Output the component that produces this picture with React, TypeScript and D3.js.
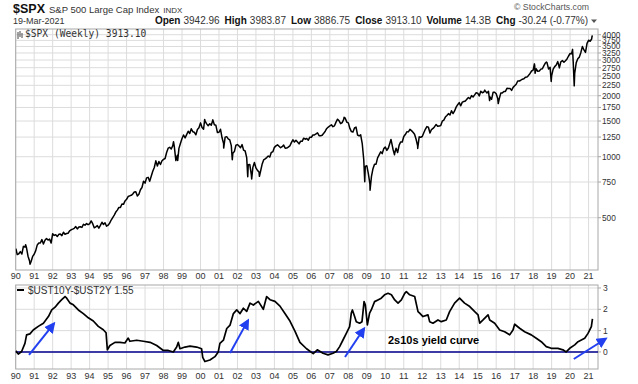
import React, { useEffect, useRef } from "react";
import * as d3 from "d3";

// S&P 500 month-end closes, Jan 1990 .. Feb 2021
const spxStartYear = 1990;
const spxMonthly = [
  329, 332, 340, 331, 361, 358, 356, 323, 306, 304, 322, 330,
  344, 367, 375, 375, 390, 371, 387, 395, 388, 392, 375, 417,
  409, 412, 404, 414, 415, 408, 424, 414, 418, 419, 431, 436,
  439, 443, 452, 440, 450, 451, 448, 464, 459, 468, 462, 466,
  482, 467, 446, 451, 457, 444, 458, 475, 463, 472, 454, 459,
  470, 487, 501, 515, 533, 545, 562, 562, 584, 582, 605, 616,
  636, 641, 645, 654, 669, 671, 640, 652, 687, 705, 757, 741,
  786, 791, 757, 801, 848, 885, 954, 899, 947, 915, 955, 970,
  980, 1049, 1102, 1112, 1091, 1134, 1121, 957, 1017, 1099, 1164, 1229,
  1280, 1238, 1286, 1335, 1302, 1373, 1329, 1320, 1283, 1363, 1389, 1469,
  1394, 1366, 1499, 1452, 1421, 1455, 1431, 1518, 1437, 1429, 1315, 1320,
  1366, 1240, 1160, 1249, 1256, 1224, 1211, 1134, 1041, 1060, 1139, 1148,
  1130, 1107, 1147, 1077, 1067, 990, 912, 916, 815, 886, 936, 880,
  856, 841, 848, 917, 964, 975, 990, 1008, 996, 1051, 1058, 1112,
  1131, 1145, 1126, 1107, 1121, 1141, 1102, 1104, 1115, 1130, 1174, 1212,
  1181, 1204, 1181, 1157, 1192, 1191, 1234, 1220, 1229, 1207, 1249, 1248,
  1280, 1281, 1295, 1311, 1270, 1270, 1277, 1304, 1336, 1378, 1401, 1418,
  1438, 1407, 1421, 1482, 1531, 1503, 1455, 1474, 1527, 1549, 1481, 1468,
  1379, 1331, 1323, 1386, 1400, 1280, 1267, 1283, 1165, 969, 896, 903,
  826, 735, 798, 873, 919, 919, 987, 1021, 1057, 1036, 1096, 1115,
  1074, 1104, 1169, 1187, 1089, 1031, 1102, 1049, 1141, 1183, 1181, 1258,
  1286, 1327, 1326, 1364, 1345, 1321, 1292, 1219, 1131, 1253, 1247, 1258,
  1312, 1366, 1408, 1398, 1310, 1362, 1379, 1407, 1441, 1412, 1416, 1426,
  1498, 1515, 1569, 1598, 1631, 1606, 1686, 1633, 1682, 1757, 1806, 1848,
  1783, 1859, 1872, 1884, 1924, 1960, 1931, 2003, 1972, 2018, 2068, 2059,
  1995, 2105, 2068, 2086, 2107, 2063, 2104, 1972, 1920, 2079, 2080, 2044,
  1940, 1932, 2060, 2065, 2097, 2099, 2174, 2171, 2168, 2126, 2199, 2239,
  2279, 2364, 2363, 2384, 2412, 2423, 2470, 2472, 2519, 2575, 2648, 2674,
  2824, 2714, 2641, 2648, 2705, 2718, 2816, 2902, 2914, 2711, 2760, 2507,
  2704, 2784, 2834, 2946, 2752, 2942, 2980, 2926, 2977, 3038, 3141, 3231,
  3226, 2954, 2585, 2912, 3044, 3100, 3271, 3500, 3363, 3270, 3622, 3756,
  3714, 3811,
];

// weekly swing highs / lows between month ends
const spxSwingDates = [
  "1990-01-05", "1990-07-16", "1990-10-11", "1998-07-17", "1998-10-08",
  "2000-03-24", "2000-09-01", "2001-04-04", "2001-09-21", "2002-07-23",
  "2002-10-09", "2003-03-11", "2007-10-09", "2008-11-21", "2009-03-06",
  "2010-04-23", "2010-07-02", "2011-10-03", "2015-05-21", "2015-08-24",
  "2016-02-11", "2018-01-26", "2018-02-08", "2018-09-20", "2018-12-24",
  "2019-06-03", "2020-02-19", "2020-03-23", "2021-03-12", "2021-03-19",
];
const spxSwingValues = [
  352, 368, 295, 1186, 959,
  1527, 1520, 1103, 966, 797,
  777, 800, 1565, 752, 683,
  1217, 1022, 1099, 2131, 1893,
  1829, 2872, 2581, 2930, 2351,
  2744, 3386, 2237, 3943, 3913,
];

// 10y - 2y treasury spread (decimal years / percent)
const spreadYears = [
  1990.0, 1990.14, 1990.32, 1990.5, 1990.59, 1990.77, 1990.95, 1991.22, 1991.5, 1991.77,
  1991.95, 1992.13, 1992.31, 1992.49, 1992.67, 1992.76, 1992.94, 1993.12, 1993.39, 1993.66,
  1993.93, 1994.2, 1994.47, 1994.74, 1994.89, 1994.96, 1995.1, 1995.37, 1995.64, 1995.91,
  1996.09, 1996.18, 1996.55, 1996.91, 1997.27, 1997.63, 1997.99, 1998.26, 1998.53, 1998.71,
  1998.8, 1998.89, 1999.16, 1999.43, 1999.79, 2000.06, 2000.12, 2000.24, 2000.51, 2000.78,
  2000.96, 2001.05, 2001.24, 2001.42, 2001.6, 2001.78, 2001.96, 2002.14, 2002.32, 2002.5,
  2002.68, 2002.86, 2003.13, 2003.4, 2003.58, 2003.76, 2004.03, 2004.3, 2004.57, 2004.84,
  2005.11, 2005.38, 2005.74, 2006.1, 2006.32, 2006.63, 2006.9, 2007.17, 2007.35, 2007.53,
  2007.71, 2007.89, 2008.07, 2008.16, 2008.22, 2008.34, 2008.43, 2008.61, 2008.74, 2008.85,
  2008.92, 2009.03, 2009.15, 2009.24, 2009.42, 2009.6, 2009.78, 2009.96, 2010.15, 2010.33,
  2010.51, 2010.69, 2010.87, 2011.05, 2011.14, 2011.32, 2011.59, 2011.77, 2011.86, 2012.04,
  2012.31, 2012.4, 2012.58, 2012.85, 2013.03, 2013.3, 2013.48, 2013.75, 2014.02, 2014.29,
  2014.57, 2014.84, 2015.02, 2015.11, 2015.29, 2015.56, 2015.65, 2015.92, 2016.19, 2016.46,
  2016.73, 2016.91, 2017.0, 2017.27, 2017.54, 2017.9, 2018.17, 2018.44, 2018.71, 2018.98,
  2019.34, 2019.61, 2019.79, 2019.98, 2020.25, 2020.43, 2020.61, 2020.79, 2020.97, 2021.15,
  2021.21,
];
const spreadValues = [
  0.05, -0.1, 0.02, 0.4, 0.8, 0.85, 1.03, 1.2, 1.35, 1.66,
  1.97, 2.1, 2.29, 2.45, 2.6, 2.52, 2.29, 2.21, 1.97, 1.8,
  1.6, 1.45, 1.2, 1.04, 0.9, 0.1, 0.3, 0.45, 0.45, 0.42,
  0.65, 0.5, 0.55, 0.5, 0.45, 0.3, 0.07, 0.07, 0.0, 0.23,
  0.45, 0.15, 0.23, 0.27, 0.23, 0.15, -0.25, -0.45, -0.38, -0.22,
  0.0, 0.4, 0.55, 1.1, 1.26, 1.8, 1.97, 1.8, 2.05, 1.9,
  2.29, 2.2, 2.37, 2.0, 2.6, 2.45, 2.37, 2.15, 1.8, 1.45,
  0.98, 0.45, 0.15, -0.08, 0.1, -0.06, -0.14, -0.06, 0.02, 0.25,
  0.56, 0.87, 1.19, 1.82, 1.97, 1.66, 1.42, 1.35, 1.42, 2.36,
  2.21, 1.27, 1.82, 1.97, 2.36, 2.44, 2.52, 2.68, 2.75, 2.68,
  2.44, 2.29, 2.44, 2.75, 2.83, 2.68, 2.6, 1.89, 1.82, 1.66,
  1.74, 1.42, 1.35, 1.5, 1.42, 1.5, 1.89, 2.29, 2.52, 2.29,
  2.13, 1.89, 1.74, 1.35, 1.5, 1.74, 1.5, 1.35, 1.03, 0.95,
  0.8, 1.03, 1.3, 1.11, 0.95, 0.8, 0.64, 0.48, 0.25, 0.17,
  0.17, 0.1, 0.0, 0.17, 0.33, 0.48, 0.56, 0.64, 0.87, 1.19,
  1.55,
];

const years = d3.range(1990, 2022);
const spxTicks = [500, 750, 1000, 1250, 1500, 1750, 2000, 2250, 2500, 2750, 3000, 3250, 3500, 3750, 4000];
const spreadTicks = [0, 1, 2, 3];

// annotation arrows, [year, spread] -> [year, spread]
const arrowFrom = [[1990.72, -0.14], [2001.6, -0.05], [2007.82, -0.24], [2020.2, -0.33]];
const arrowTo = [[1992.07, 1.33], [2002.57, 1.48], [2008.85, 1.1], [2021.93, 0.62]];

const fracYear = (s: string) => {
  const d = new Date(s + "T00:00:00Z");
  const y = d.getUTCFullYear();
  const a = Date.UTC(y, 0, 1), b = Date.UTC(y + 1, 0, 1);
  return y + (d.getTime() - a) / (b - a);
};

const font = "'Liberation Sans', Arial, sans-serif";
const mono = "'DejaVu Sans Mono', monospace";

const SpxChart = () => {
  const container = useRef<HTMLDivElement>(null);

  useEffect(() => {
    document.body.style.margin = "0";
    const el = container.current!;
    el.innerHTML = "";

    const width = 638, height = 384;
    const left = 15.7, right = 598;
    const top1 = 29, bottom1 = 270;
    const top2 = 285, bottom2 = 369;
    const grid = "#dcdcdc", border = "#a8a8a8", txt = "#333";

    const svg = d3.select(el).append("svg")
      .attr("width", width).attr("height", height)
      .style("display", "block")
      .style("background", "#fff");

    const x = d3.scaleLinear().domain([1990, 2021.51]).range([left, right]);
    const y1 = d3.scaleLog().domain([276, 4268]).range([bottom1, top1]);
    const y2 = d3.scaleLinear().domain([-0.8, 3.14]).range([bottom2, top2]);

    const defs = svg.append("defs");
    defs.append("clipPath").attr("id", "clip1").append("rect")
      .attr("x", left).attr("y", top1).attr("width", right - left).attr("height", bottom1 - top1);
    defs.append("clipPath").attr("id", "clip2").append("rect")
      .attr("x", left).attr("y", top2).attr("width", right - left).attr("height", bottom2 - top2);
    defs.append("marker").attr("id", "head")
      .attr("viewBox", "0 0 10 10").attr("refX", 8).attr("refY", 5)
      .attr("markerWidth", 11).attr("markerHeight", 11)
      .attr("markerUnits", "userSpaceOnUse").attr("orient", "auto")
      .append("path").attr("d", "M0,0L10,5L0,10z").attr("fill", "#2340f0");

    // header
    const head = svg.append("g").style("font-family", font);
    const t1 = head.append("text").attr("x", 13).attr("y", 13).attr("fill", "#111");
    t1.append("tspan").attr("font-weight", "bold").attr("font-size", 12.5).text("$SPX");
    t1.append("tspan").attr("font-size", 9.5).attr("dx", 4).attr("fill", "#333").text("S&P 500 Large Cap Index");
    t1.append("tspan").attr("font-size", 8).attr("dx", 4).attr("fill", "#333").text("INDX");
    head.append("text").attr("x", 13).attr("y", 24).attr("font-size", 9).attr("fill", "#333").text("19-Mar-2021");
    head.append("text").attr("x", 589).attr("y", 10).attr("font-size", 8.7).attr("fill", "#555")
      .attr("text-anchor", "end").text("\u00a9 StockCharts.com");

    const quote: [string, string][] = [
      ["Open", "3942.96"], ["High", "3983.87"], ["Low", "3886.75"], ["Close", "3913.10"],
      ["Volume", "14.3B"], ["Chg", "-30.24 (-0.77%)"],
    ];
    const q = head.append("text").attr("x", 588).attr("y", 24).attr("text-anchor", "end")
      .attr("font-size", 10).attr("fill", "#333");
    quote.forEach(([k, v], i) => {
      q.append("tspan").attr("font-weight", "bold").attr("fill", "#111").attr("dx", i ? 5 : 0).text(k);
      q.append("tspan").attr("dx", 3).text(v);
    });
    head.append("path").attr("d", "M591,19.5L597,19.5L594,23z").attr("fill", "#555");

    // grids
    const drawGrid = (top: number, bottom: number, ys: number[]) => {
      const g = svg.append("g");
      g.selectAll("line.v").data(years).enter().append("line")
        .attr("x1", (d) => x(d)).attr("x2", (d) => x(d))
        .attr("y1", top).attr("y2", bottom)
        .attr("stroke", grid).attr("stroke-width", 1);
      g.selectAll("line.h").data(ys).enter().append("line")
        .attr("x1", left).attr("x2", right)
        .attr("y1", (d) => d).attr("y2", (d) => d)
        .attr("stroke", grid).attr("stroke-width", 1);
      g.append("rect").attr("x", left).attr("y", top)
        .attr("width", right - left).attr("height", bottom - top)
        .attr("fill", "none").attr("stroke", border).attr("stroke-width", 1);
    };
    drawGrid(top1, bottom1, spxTicks.map((d) => y1(d)));
    drawGrid(top2, bottom2, spreadTicks.map((d) => y2(d)));

    // right axes
    const axis1 = svg.append("g").style("font-family", font).attr("font-size", 8.3).attr("fill", txt);
    spxTicks.forEach((d) => {
      axis1.append("line").attr("x1", right).attr("x2", right + 3)
        .attr("y1", y1(d)).attr("y2", y1(d)).attr("stroke", border);
      axis1.append("text").attr("x", right + 4).attr("y", y1(d) + 3).text(d);
    });
    const axis2 = svg.append("g").style("font-family", font).attr("font-size", 8.5).attr("fill", txt);
    spreadTicks.forEach((d) => {
      axis2.append("line").attr("x1", right).attr("x2", right + 3)
        .attr("y1", y2(d)).attr("y2", y2(d)).attr("stroke", border);
      axis2.append("text").attr("x", right + 5).attr("y", y2(d) + 3).text(d);
    });

    // bottom year labels
    [bottom1 + 9, bottom2 + 10].forEach((yy) => {
      svg.append("g").style("font-family", font).attr("font-size", 9).attr("fill", txt)
        .selectAll("text").data(years).enter().append("text")
        .attr("x", (d) => x(d)).attr("y", yy).attr("text-anchor", "middle")
        .text((d) => String(d % 100).padStart(2, "0"));
    });

    // SPX line
    const spxPoints = spxMonthly.map((v, i) => ({ t: spxStartYear + (i + 1) / 12, v }))
      .concat(spxSwingDates.map((d, i) => ({ t: fracYear(d), v: spxSwingValues[i] })))
      .sort((a, b) => a.t - b.t);
    svg.append("path").datum(spxPoints)
      .attr("clip-path", "url(#clip1)")
      .attr("d", d3.line<{ t: number; v: number }>().x((d) => x(d.t)).y((d) => y1(d.v)))
      .attr("fill", "none").attr("stroke", "#000").attr("stroke-width", 1.5)
      .attr("stroke-linejoin", "round");

    // legend top
    const lg = svg.append("g");
    lg.append("path").attr("d", "M18,32V39M20,31V37M22,33V38").attr("stroke", "#444").attr("stroke-width", 1);
    lg.append("text").attr("x", 25).attr("y", 37).style("font-family", mono)
      .attr("font-size", 9.6).attr("fill", "#333").text("$SPX (Weekly) 3913.10");

    // spread panel
    const zero = y2(0);
    svg.append("line").attr("x1", left).attr("x2", right).attr("y1", zero).attr("y2", zero)
      .attr("stroke", "#00008b").attr("stroke-width", 1.5);
    svg.append("path").datum(spreadYears.map((t, i) => [t, spreadValues[i]] as [number, number]))
      .attr("clip-path", "url(#clip2)")
      .attr("d", d3.line().x((d) => x(d[0])).y((d) => y2(d[1])))
      .attr("fill", "none").attr("stroke", "#000").attr("stroke-width", 1.7)
      .attr("stroke-linejoin", "round");

    svg.append("line").attr("x1", 17).attr("x2", 24).attr("y1", 290).attr("y2", 290)
      .attr("stroke", "#000").attr("stroke-width", 2);
    svg.append("text").attr("x", 28).attr("y", 294).style("font-family", font)
      .attr("font-size", 10).attr("fill", "#333").text("$UST10Y-$UST2Y 1.55");

    svg.append("text").attr("x", 388).attr("y", 344).style("font-family", font)
      .attr("font-size", 11).attr("font-weight", "bold").attr("fill", "#000").text("2s10s yield curve");

    arrowFrom.forEach((f, i) => {
      const to = arrowTo[i];
      svg.append("line")
        .attr("x1", x(f[0])).attr("y1", y2(f[1]))
        .attr("x2", x(to[0])).attr("y2", y2(to[1]))
        .attr("stroke", "#2340f0").attr("stroke-width", 2)
        .attr("marker-end", "url(#head)");
    });
  }, []);

  return <div ref={container}></div>;
};

export default function App() {
  return <SpxChart />;
}
